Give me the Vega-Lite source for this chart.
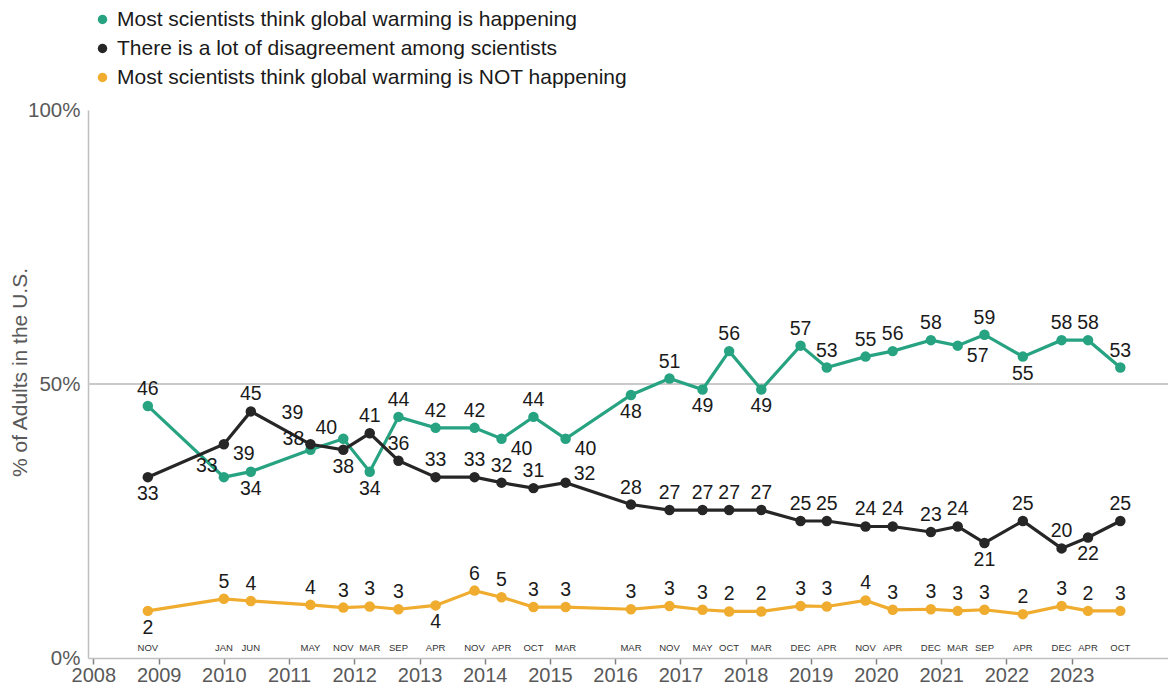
{
  "$schema": "https://vega.github.io/schema/vega-lite/v6.json",
  "width": 1080,
  "height": 548,
  "autosize": "none",
  "padding": {"left": 88, "top": 110, "right": 0, "bottom": 30},
  "config": {"view": {"stroke": null}, "font": "Liberation Sans"},
  "data": {"values": [
    {"date":"2008-11-01","mon":"NOV","series":"Most scientists think global warming is happening","value":46,"plot":46,"pos":"t"},
    {"date":"2010-01-01","mon":"JAN","series":"Most scientists think global warming is happening","value":33,"plot":33,"pos":"l"},
    {"date":"2010-06-01","mon":"JUN","series":"Most scientists think global warming is happening","value":34,"plot":34,"pos":"b"},
    {"date":"2011-05-01","mon":"MAY","series":"Most scientists think global warming is happening","value":38,"plot":38,"pos":"l"},
    {"date":"2011-11-01","mon":"NOV","series":"Most scientists think global warming is happening","value":40,"plot":40,"pos":"l"},
    {"date":"2012-03-28","mon":"MAR","series":"Most scientists think global warming is happening","value":34,"plot":34,"pos":"b"},
    {"date":"2012-09-05","mon":"SEP","series":"Most scientists think global warming is happening","value":44,"plot":44,"pos":"t"},
    {"date":"2013-04-01","mon":"APR","series":"Most scientists think global warming is happening","value":42,"plot":42,"pos":"t"},
    {"date":"2013-11-05","mon":"NOV","series":"Most scientists think global warming is happening","value":42,"plot":42,"pos":"t"},
    {"date":"2014-04-05","mon":"APR","series":"Most scientists think global warming is happening","value":40,"plot":40,"pos":"br"},
    {"date":"2014-10-01","mon":"OCT","series":"Most scientists think global warming is happening","value":44,"plot":44,"pos":"t"},
    {"date":"2015-03-30","mon":"MAR","series":"Most scientists think global warming is happening","value":40,"plot":40,"pos":"br"},
    {"date":"2016-03-30","mon":"MAR","series":"Most scientists think global warming is happening","value":48,"plot":48,"pos":"b"},
    {"date":"2016-11-01","mon":"NOV","series":"Most scientists think global warming is happening","value":51,"plot":51,"pos":"t"},
    {"date":"2017-05-05","mon":"MAY","series":"Most scientists think global warming is happening","value":49,"plot":49,"pos":"b"},
    {"date":"2017-10-01","mon":"OCT","series":"Most scientists think global warming is happening","value":56,"plot":56,"pos":"t"},
    {"date":"2018-03-30","mon":"MAR","series":"Most scientists think global warming is happening","value":49,"plot":49,"pos":"b"},
    {"date":"2018-11-05","mon":"DEC","series":"Most scientists think global warming is happening","value":57,"plot":57,"pos":"t"},
    {"date":"2019-04-01","mon":"APR","series":"Most scientists think global warming is happening","value":53,"plot":53,"pos":"t"},
    {"date":"2019-11-04","mon":"NOV","series":"Most scientists think global warming is happening","value":55,"plot":55,"pos":"t"},
    {"date":"2020-04-04","mon":"APR","series":"Most scientists think global warming is happening","value":56,"plot":56,"pos":"t"},
    {"date":"2020-11-04","mon":"DEC","series":"Most scientists think global warming is happening","value":58,"plot":58,"pos":"t"},
    {"date":"2021-04-03","mon":"MAR","series":"Most scientists think global warming is happening","value":57,"plot":57,"pos":"br"},
    {"date":"2021-08-31","mon":"SEP","series":"Most scientists think global warming is happening","value":59,"plot":59,"pos":"t"},
    {"date":"2022-04-03","mon":"APR","series":"Most scientists think global warming is happening","value":55,"plot":55,"pos":"b"},
    {"date":"2022-11-06","mon":"DEC","series":"Most scientists think global warming is happening","value":58,"plot":58,"pos":"t"},
    {"date":"2023-04-03","mon":"APR","series":"Most scientists think global warming is happening","value":58,"plot":58,"pos":"t"},
    {"date":"2023-10-01","mon":"OCT","series":"Most scientists think global warming is happening","value":53,"plot":53,"pos":"t"},

    {"date":"2008-11-01","mon":"NOV","series":"There is a lot of disagreement among scientists","value":33,"plot":33,"pos":"b"},
    {"date":"2010-01-01","mon":"JAN","series":"There is a lot of disagreement among scientists","value":39,"plot":39,"pos":"br"},
    {"date":"2010-06-01","mon":"JUN","series":"There is a lot of disagreement among scientists","value":45,"plot":45,"pos":"t"},
    {"date":"2011-05-01","mon":"MAY","series":"There is a lot of disagreement among scientists","value":39,"plot":39,"pos":"tl"},
    {"date":"2011-11-01","mon":"NOV","series":"There is a lot of disagreement among scientists","value":38,"plot":38,"pos":"b"},
    {"date":"2012-03-28","mon":"MAR","series":"There is a lot of disagreement among scientists","value":41,"plot":41,"pos":"t"},
    {"date":"2012-09-05","mon":"SEP","series":"There is a lot of disagreement among scientists","value":36,"plot":36,"pos":"t"},
    {"date":"2013-04-01","mon":"APR","series":"There is a lot of disagreement among scientists","value":33,"plot":33,"pos":"t"},
    {"date":"2013-11-05","mon":"NOV","series":"There is a lot of disagreement among scientists","value":33,"plot":33,"pos":"t"},
    {"date":"2014-04-05","mon":"APR","series":"There is a lot of disagreement among scientists","value":32,"plot":32,"pos":"t"},
    {"date":"2014-10-01","mon":"OCT","series":"There is a lot of disagreement among scientists","value":31,"plot":31,"pos":"t"},
    {"date":"2015-03-30","mon":"MAR","series":"There is a lot of disagreement among scientists","value":32,"plot":32,"pos":"tr"},
    {"date":"2016-03-30","mon":"MAR","series":"There is a lot of disagreement among scientists","value":28,"plot":28,"pos":"t"},
    {"date":"2016-11-01","mon":"NOV","series":"There is a lot of disagreement among scientists","value":27,"plot":27,"pos":"t"},
    {"date":"2017-05-05","mon":"MAY","series":"There is a lot of disagreement among scientists","value":27,"plot":27,"pos":"t"},
    {"date":"2017-10-01","mon":"OCT","series":"There is a lot of disagreement among scientists","value":27,"plot":27,"pos":"t"},
    {"date":"2018-03-30","mon":"MAR","series":"There is a lot of disagreement among scientists","value":27,"plot":27,"pos":"t"},
    {"date":"2018-11-05","mon":"DEC","series":"There is a lot of disagreement among scientists","value":25,"plot":25,"pos":"t"},
    {"date":"2019-04-01","mon":"APR","series":"There is a lot of disagreement among scientists","value":25,"plot":25,"pos":"t"},
    {"date":"2019-11-04","mon":"NOV","series":"There is a lot of disagreement among scientists","value":24,"plot":24,"pos":"t"},
    {"date":"2020-04-04","mon":"APR","series":"There is a lot of disagreement among scientists","value":24,"plot":24,"pos":"t"},
    {"date":"2020-11-04","mon":"DEC","series":"There is a lot of disagreement among scientists","value":23,"plot":23,"pos":"t"},
    {"date":"2021-04-03","mon":"MAR","series":"There is a lot of disagreement among scientists","value":24,"plot":24,"pos":"t"},
    {"date":"2021-08-31","mon":"SEP","series":"There is a lot of disagreement among scientists","value":21,"plot":21,"pos":"b"},
    {"date":"2022-04-03","mon":"APR","series":"There is a lot of disagreement among scientists","value":25,"plot":25,"pos":"t"},
    {"date":"2022-11-06","mon":"DEC","series":"There is a lot of disagreement among scientists","value":20,"plot":20,"pos":"t"},
    {"date":"2023-04-03","mon":"APR","series":"There is a lot of disagreement among scientists","value":22,"plot":22,"pos":"b"},
    {"date":"2023-10-01","mon":"OCT","series":"There is a lot of disagreement among scientists","value":25,"plot":25,"pos":"t"},

    {"date":"2008-11-01","mon":"NOV","series":"Most scientists think global warming is NOT happening","value":2,"plot":8.6,"pos":"b"},
    {"date":"2010-01-01","mon":"JAN","series":"Most scientists think global warming is NOT happening","value":5,"plot":10.8,"pos":"t"},
    {"date":"2010-06-01","mon":"JUN","series":"Most scientists think global warming is NOT happening","value":4,"plot":10.4,"pos":"t"},
    {"date":"2011-05-01","mon":"MAY","series":"Most scientists think global warming is NOT happening","value":4,"plot":9.7,"pos":"t"},
    {"date":"2011-11-01","mon":"NOV","series":"Most scientists think global warming is NOT happening","value":3,"plot":9.2,"pos":"t"},
    {"date":"2012-03-28","mon":"MAR","series":"Most scientists think global warming is NOT happening","value":3,"plot":9.4,"pos":"t"},
    {"date":"2012-09-05","mon":"SEP","series":"Most scientists think global warming is NOT happening","value":3,"plot":8.9,"pos":"t"},
    {"date":"2013-04-01","mon":"APR","series":"Most scientists think global warming is NOT happening","value":4,"plot":9.6,"pos":"b"},
    {"date":"2013-11-05","mon":"NOV","series":"Most scientists think global warming is NOT happening","value":6,"plot":12.3,"pos":"t"},
    {"date":"2014-04-05","mon":"APR","series":"Most scientists think global warming is NOT happening","value":5,"plot":11.1,"pos":"t"},
    {"date":"2014-10-01","mon":"OCT","series":"Most scientists think global warming is NOT happening","value":3,"plot":9.3,"pos":"t"},
    {"date":"2015-03-30","mon":"MAR","series":"Most scientists think global warming is NOT happening","value":3,"plot":9.3,"pos":"t"},
    {"date":"2016-03-30","mon":"MAR","series":"Most scientists think global warming is NOT happening","value":3,"plot":8.9,"pos":"t"},
    {"date":"2016-11-01","mon":"NOV","series":"Most scientists think global warming is NOT happening","value":3,"plot":9.5,"pos":"t"},
    {"date":"2017-05-05","mon":"MAY","series":"Most scientists think global warming is NOT happening","value":3,"plot":8.8,"pos":"t"},
    {"date":"2017-10-01","mon":"OCT","series":"Most scientists think global warming is NOT happening","value":2,"plot":8.5,"pos":"t"},
    {"date":"2018-03-30","mon":"MAR","series":"Most scientists think global warming is NOT happening","value":2,"plot":8.5,"pos":"t"},
    {"date":"2018-11-05","mon":"DEC","series":"Most scientists think global warming is NOT happening","value":3,"plot":9.5,"pos":"t"},
    {"date":"2019-04-01","mon":"APR","series":"Most scientists think global warming is NOT happening","value":3,"plot":9.4,"pos":"t"},
    {"date":"2019-11-04","mon":"NOV","series":"Most scientists think global warming is NOT happening","value":4,"plot":10.5,"pos":"t"},
    {"date":"2020-04-04","mon":"APR","series":"Most scientists think global warming is NOT happening","value":3,"plot":8.8,"pos":"t"},
    {"date":"2020-11-04","mon":"DEC","series":"Most scientists think global warming is NOT happening","value":3,"plot":8.9,"pos":"t"},
    {"date":"2021-04-03","mon":"MAR","series":"Most scientists think global warming is NOT happening","value":3,"plot":8.6,"pos":"t"},
    {"date":"2021-08-31","mon":"SEP","series":"Most scientists think global warming is NOT happening","value":3,"plot":8.8,"pos":"t"},
    {"date":"2022-04-03","mon":"APR","series":"Most scientists think global warming is NOT happening","value":2,"plot":8.0,"pos":"t"},
    {"date":"2022-11-06","mon":"DEC","series":"Most scientists think global warming is NOT happening","value":3,"plot":9.5,"pos":"t"},
    {"date":"2023-04-03","mon":"APR","series":"Most scientists think global warming is NOT happening","value":2,"plot":8.6,"pos":"t"},
    {"date":"2023-10-01","mon":"OCT","series":"Most scientists think global warming is NOT happening","value":3,"plot":8.6,"pos":"t"}
  ]},
  "layer": [
    {
      "mark": {"type": "rule", "color": "#c8c8c8", "strokeWidth": 1.5},
      "encoding": {"y": {"datum": 50, "type": "quantitative", "scale": {"domain": [0, 100]}}}
    },
    {
      "mark": {"type": "line", "strokeWidth": 3.2},
      "encoding": {
        "x": {"field": "date", "type": "temporal",
          "scale": {"type": "utc", "domain": ["2007-12-02", "2024-06-24"]},
          "axis": {
            "title": null,
            "values": [{"year":2008,"utc":true},{"year":2009,"utc":true},{"year":2010,"utc":true},{"year":2011,"utc":true},{"year":2012,"utc":true},{"year":2013,"utc":true},{"year":2014,"utc":true},{"year":2015,"utc":true},{"year":2016,"utc":true},{"year":2017,"utc":true},{"year":2018,"utc":true},{"year":2019,"utc":true},{"year":2020,"utc":true},{"year":2021,"utc":true},{"year":2022,"utc":true},{"year":2023,"utc":true}],
            "format": "%Y",
            "grid": false,
            "labelFontSize": 20,
            "labelColor": "#595959",
            "labelPadding": 1,
            "tickColor": "#808080",
            "tickSize": 6,
            "tickWidth": 1.5,
            "domainColor": "#bfbfbf",
            "domainWidth": 1.5,
            "labelFlush": false,
            "labelOverlap": false
          }},
        "y": {"field": "plot", "type": "quantitative",
          "scale": {"domain": [0, 100]},
          "axis": {
            "values": [0, 50, 100],
            "labelExpr": "datum.value + '%'",
            "title": "% of Adults in the U.S.",
            "grid": false,
            "ticks": false,
            "domainColor": "#bfbfbf",
            "domainWidth": 1.5,
            "labelFontSize": 20.5,
            "labelColor": "#595959",
            "labelPadding": 8,
            "titleFontSize": 21,
            "titleFontWeight": "normal",
            "titleColor": "#595959",
            "titleX": -62,
            "titleY": 262,
            "titleAngle": -90,
            "titleAlign": "center",
            "titleBaseline": "alphabetic"
          }},
        "color": {"field": "series", "type": "nominal",
          "scale": {
            "domain": ["Most scientists think global warming is happening", "There is a lot of disagreement among scientists", "Most scientists think global warming is NOT happening"],
            "range": ["#27a382", "#262626", "#efac2e"]},
          "legend": {
            "orient": "none", "legendX": 4, "legendY": -101,
            "title": null, "labelFontSize": 21, "labelColor": "#1a1a1a",
            "symbolType": "circle", "symbolSize": 90, "symbolStrokeWidth": 0,
            "rowPadding": 7, "labelOffset": 4, "padding": 0, "labelLimit": 800
          }}
      }
    },
    {
      "mark": {"type": "point", "filled": true, "size": 110, "opacity": 1},
      "encoding": {
        "x": {"field": "date", "type": "temporal"},
        "y": {"field": "plot", "type": "quantitative"},
        "color": {"field": "series", "type": "nominal",
          "legend": {
            "orient": "none", "legendX": 4, "legendY": -101,
            "title": null, "labelFontSize": 21, "labelColor": "#1a1a1a",
            "symbolType": "circle", "symbolSize": 90, "symbolStrokeWidth": 0,
            "rowPadding": 7, "labelOffset": 4, "padding": 0, "labelLimit": 800
          }}
      }
    },
    {
      "transform": [{"filter": {"field": "series", "equal": "Most scientists think global warming is happening"}}],
      "mark": {"type": "text", "fontSize": 9.5, "color": "#333333", "baseline": "middle"},
      "encoding": {
        "x": {"field": "date", "type": "temporal"},
        "y": {"datum": 1.9, "type": "quantitative"},
        "text": {"field": "mon"}
      }
    },
    {
      "transform": [{"filter": {"field": "pos", "equal": "t"}}],
      "mark": {"type": "text", "fontSize": 19.5, "color": "#1a1a1a", "baseline": "middle", "dy": -17},
      "encoding": {"x": {"field": "date", "type": "temporal"}, "y": {"field": "plot", "type": "quantitative"}, "text": {"field": "value"}}
    },
    {
      "transform": [{"filter": {"field": "pos", "equal": "b"}}],
      "mark": {"type": "text", "fontSize": 19.5, "color": "#1a1a1a", "baseline": "middle", "dy": 17},
      "encoding": {"x": {"field": "date", "type": "temporal"}, "y": {"field": "plot", "type": "quantitative"}, "text": {"field": "value"}}
    },
    {
      "transform": [{"filter": {"field": "pos", "equal": "l"}}],
      "mark": {"type": "text", "fontSize": 19.5, "color": "#1a1a1a", "baseline": "middle", "dx": -17, "dy": -11},
      "encoding": {"x": {"field": "date", "type": "temporal"}, "y": {"field": "plot", "type": "quantitative"}, "text": {"field": "value"}}
    },
    {
      "transform": [{"filter": {"field": "pos", "equal": "tl"}}],
      "mark": {"type": "text", "fontSize": 19.5, "color": "#1a1a1a", "baseline": "middle", "dx": -18, "dy": -31},
      "encoding": {"x": {"field": "date", "type": "temporal"}, "y": {"field": "plot", "type": "quantitative"}, "text": {"field": "value"}}
    },
    {
      "transform": [{"filter": {"field": "pos", "equal": "br"}}],
      "mark": {"type": "text", "fontSize": 19.5, "color": "#1a1a1a", "baseline": "middle", "dx": 20, "dy": 10},
      "encoding": {"x": {"field": "date", "type": "temporal"}, "y": {"field": "plot", "type": "quantitative"}, "text": {"field": "value"}}
    },
    {
      "transform": [{"filter": {"field": "pos", "equal": "tr"}}],
      "mark": {"type": "text", "fontSize": 19.5, "color": "#1a1a1a", "baseline": "middle", "dx": 19, "dy": -9},
      "encoding": {"x": {"field": "date", "type": "temporal"}, "y": {"field": "plot", "type": "quantitative"}, "text": {"field": "value"}}
    }
  ]
}
